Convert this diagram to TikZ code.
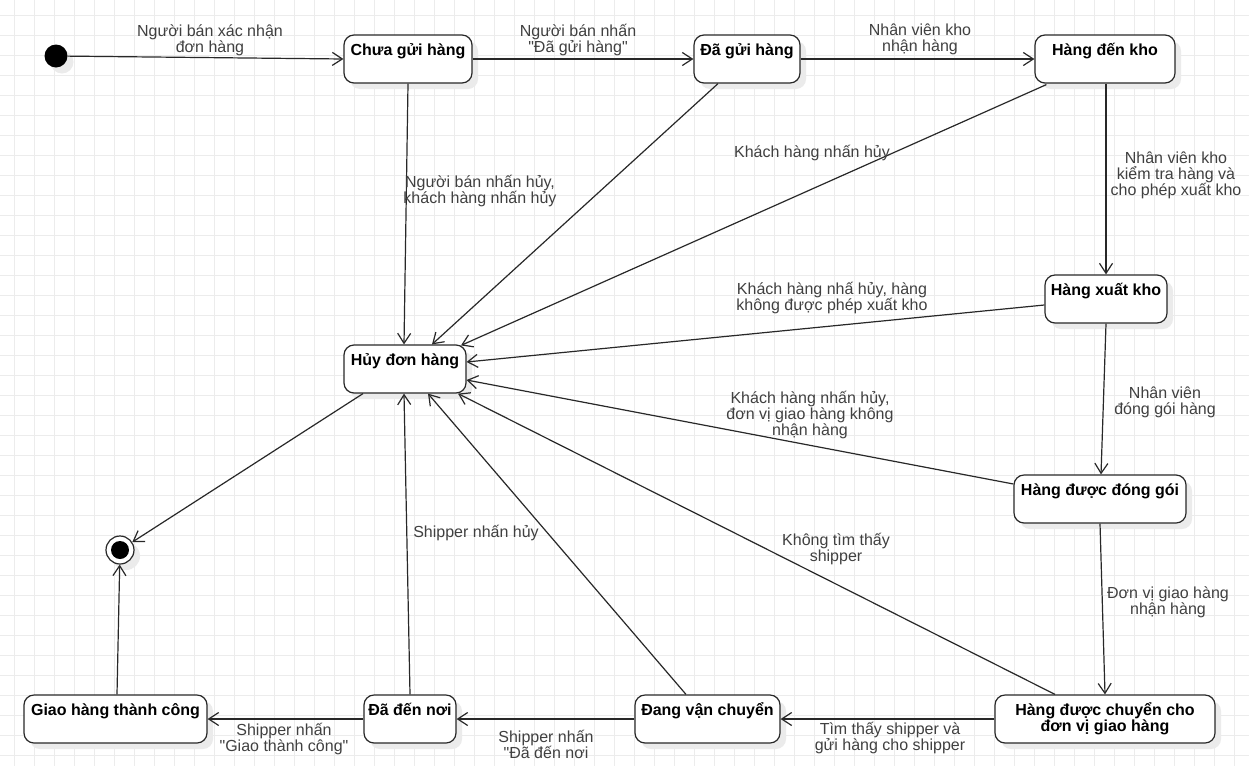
\documentclass[tikz,border=0pt]{standalone}
\usepackage{fontspec}
\setmainfont{Liberation Sans}
\newfontfamily\qfont{Liberation Sans}
\usetikzlibrary{arrows.meta,shadows}
\definecolor{gridc}{RGB}{236,236,236}
\definecolor{edgec}{RGB}{40,40,40}
\definecolor{lblc}{RGB}{64,64,64}
\newcommand{\dq}{{\qfont\char34}}
\begin{document}
\begin{tikzpicture}[x=1pt,y=-1pt,
  shadowed/.style={drop shadow={shadow xshift=6pt,shadow yshift=-6pt,fill=black!8,opacity=1}},
  stbox/.style={draw=edgec,line width=1.2pt,rounded corners=10pt,fill=white,minimum height=48pt,inner sep=0pt,shadowed},
  sttext/.style={anchor=base,align=center,inner sep=0pt,font=\fontsize{16}{16}\selectfont\bfseries},
  lbl/.style={anchor=base,align=center,inner sep=0pt,text=lblc,font=\fontsize{16}{16}\selectfont},
  tr/.style={draw=edgec,line width=1.2pt,-{Straight Barb[length=10pt,width=13pt,line width=1.2pt]}},
]
\useasboundingbox (0,0) rectangle (1249,766);
\fill[white] (0,0) rectangle (1249,766);
\foreach \x in {14,34,...,1249} \draw[gridc,line width=0.8pt] (\x,0) -- (\x,766);
\foreach \y in {15,35,...,766} \draw[gridc,line width=0.8pt] (0,\y) -- (1249,\y);

% states
\node[circle,fill=black,minimum size=23pt,inner sep=0pt,shadowed] (init) at (56,56) {};
\node[stbox,minimum width=128pt] (chua) at (408,59) {};
\node[sttext] (chua-t) at ([yshift=-21pt]chua.north) {Chưa gửi hàng};
\node[stbox,minimum width=106pt] (dagui) at (747,59) {};
\node[sttext] (dagui-t) at ([yshift=-21pt]dagui.north) {Đã gửi hàng};
\node[stbox,minimum width=140pt] (denkho) at (1105,59) {};
\node[sttext] (denkho-t) at ([yshift=-21pt]denkho.north) {Hàng đến kho};
\node[stbox,minimum width=122pt] (xuatkho) at (1106,299) {};
\node[sttext] (xuatkho-t) at ([yshift=-21pt]xuatkho.north) {Hàng xuất kho};
\node[stbox,minimum width=122pt] (huy) at (405,369) {};
\node[sttext] (huy-t) at ([yshift=-21pt]huy.north) {Hủy đơn hàng};
\node[stbox,minimum width=172pt] (donggoi) at (1100,499) {};
\node[sttext] (donggoi-t) at ([yshift=-21pt]donggoi.north) {Hàng được đóng gói};
\node[stbox,minimum width=220pt] (chuyen) at (1105,719) {};
\node[sttext] (chuyen-t) at ([yshift=-37pt]chuyen.north) {Hàng được chuyển cho\\đơn vị giao hàng};
\node[stbox,minimum width=145pt] (dangvc) at (707.5,719) {};
\node[sttext] (dangvc-t) at ([yshift=-21pt]dangvc.north) {Đang vận chuyển};
\node[stbox,minimum width=92pt] (daden) at (410,719) {};
\node[sttext] (daden-t) at ([yshift=-21pt]daden.north) {Đã đến nơi};
\node[stbox,minimum width=183pt] (giaotc) at (115.5,719) {};
\node[sttext] (giaotc-t) at ([yshift=-21pt]giaotc.north) {Giao hàng thành công};
\node[circle,draw=edgec,fill=white,line width=1.2pt,minimum size=28pt,inner sep=0pt,shadowed] (final) at (120,550) {};
\node[circle,fill=black,minimum size=18pt,inner sep=0pt] (finalin) at (final.center) {};

% transitions
\draw[tr] (init) -- (chua.west);
\draw[tr] (chua.east) -- (dagui.west);
\draw[tr] (dagui.east) -- (denkho.west);
\draw[tr] ([xshift=1pt]denkho.south) -- (xuatkho.north);
\draw[tr] (xuatkho.south) -- ([xshift=1pt]donggoi.north);
\draw[tr] (donggoi.south) -- (chuyen.north);
\draw[tr] (chuyen.west) -- (dangvc.east);
\draw[tr] (dangvc.west) -- (daden.east);
\draw[tr] (daden.west) -- (giaotc.east);
\draw[tr] ([xshift=1.5pt]giaotc.north) -- (final);
\draw[tr] ([xshift=-42pt]huy.south) -- (final);
\draw[tr] (chua.south) -- ([xshift=-1pt]huy.north);
\draw[tr] ([xshift=-29pt]dagui.south) -- ([xshift=27pt]huy.north);
\draw[tr] ([xshift=12pt,yshift=-1pt]denkho.south west) -- ([xshift=56pt,yshift=-1pt]huy.north);
\draw[tr] ([yshift=-6pt]xuatkho.west) -- ([yshift=7pt]huy.east);
\draw[tr] ([yshift=15pt]donggoi.west) -- ([yshift=-11pt]huy.east);
\draw[tr] ([xshift=-50pt]chuyen.north) -- ([xshift=53pt]huy.south);
\draw[tr] ([xshift=-21.5pt]dangvc.north) -- ([xshift=23pt]huy.south);
\draw[tr] (daden.north) -- ([xshift=-1pt]huy.south);

% labels (anchor = baseline of last line)
\node[lbl] (l1) at (210,52) {Người bán xác nhận\\đơn hàng};
\node[lbl] (l2) at (578,52) {Người bán nhấn\\\dq Đã gửi hàng\dq};
\node[lbl] (l3) at (920,51) {Nhân viên kho\\nhận hàng};
\node[lbl] (l4) at (1176,195) {Nhân viên kho\\kiểm tra hàng và\\cho phép xuất kho};
\node[lbl] (l5) at (1165,414) {Nhân viên\\đóng gói hàng};
\node[lbl] (l6) at (1168,614) {Đơn vị giao hàng\\nhận hàng};
\node[lbl] (l7) at (890,750) {Tìm thấy shipper và\\gửi hàng cho shipper};
\node[lbl] (l8) at (546,758) {Shipper nhấn\\\dq Đã đến nơi};
\node[lbl] (l9) at (284,751) {Shipper nhấn\\\dq Giao thành công\dq};
\node[lbl] (l12) at (480,203) {Người bán nhấn hủy,\\khách hàng nhấn hủy};
\node[lbl] (l14) at (812,157) {Khách hàng nhấn hủy};
\node[lbl] (l15) at (832,310) {Khách hàng nhấ hủy, hàng\\không được phép xuất kho};
\node[lbl] (l16) at (810,435) {Khách hàng nhấn hủy,\\đơn vị giao hàng không\\nhận hàng};
\node[lbl] (l17) at (836,561) {Không tìm thấy\\shipper};
\node[lbl] (l19) at (476,537) {Shipper nhấn hủy};
\end{tikzpicture}
\end{document}
